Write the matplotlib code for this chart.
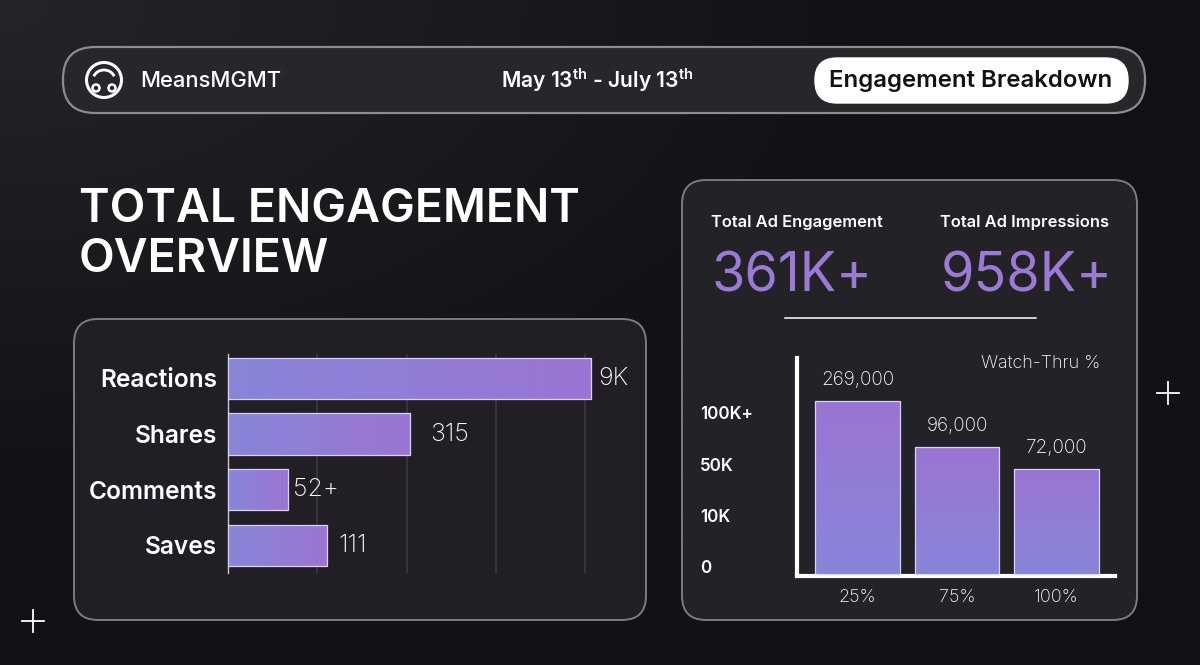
import numpy as np
import matplotlib
matplotlib.use("Agg")
import matplotlib.pyplot as plt
from matplotlib.patches import FancyBboxPatch, Circle, Arc
from matplotlib.colors import LinearSegmentedColormap
from matplotlib.transforms import offset_copy

plt.rcParams['font.family'] = ['Inter', 'DejaVu Sans']

# ---------------- data ----------------
brand = "MeansMGMT"
date_range = "May 13$^{\\mathrm{th}}$ - July 13$^{\\mathrm{th}}$"
badge = "Engagement Breakdown"
title_lines = ["TOTAL ENGAGEMENT", "OVERVIEW"]

eng_categories = ["Reactions", "Shares", "Comments", "Saves"]
eng_bar_lengths = [4.07, 2.04, 0.67, 1.11]        # drawn length (grid units)
eng_value_labels = ["9K", "315", "52+", "111"]
eng_grid = [1, 2, 3, 4]

kpi_titles = ["Total Ad Engagement", "Total Ad Impressions"]
kpi_values = ["361K+", "958K+"]

watch_categories = ["25%", "75%", "100%"]
watch_bar_tops = [3.23, 2.33, 1.90]                # drawn height (tick units)
watch_value_labels = ["269,000", "96,000", "72,000"]
watch_ticks = [0, 1, 2, 3]
watch_tick_labels = ["0", "10K", "50K", "100K+"]
watch_title = "Watch-Thru %"

# ---------------- style ----------------
W, H = 1200, 665
PT = 72 / 100.0  # px -> pt
BG_DARK = "#121116"
PANEL = "#211f25"
EDGE = "#7c7b82"
PURPLE = "#9b7ad6"
C_LEFT = "#8885d9"
C_RIGHT = "#9b74d3"

fig = plt.figure(figsize=(12, 6.65), dpi=100)
fig.patch.set_facecolor(BG_DARK)

bg = fig.add_axes([0, 0, 1, 1])
bg.set_xlim(0, W)
bg.set_ylim(H, 0)
bg.axis("off")

# background gradient (lighter top-left)
yy, xx = np.mgrid[0:H:4, 0:W:4]
d = np.clip(1 - np.sqrt((xx / 900.0) ** 2 + (yy / 500.0) ** 2), 0, 1)
base = np.array([0x12, 0x11, 0x16]) / 255.0
hi = np.array([0x25, 0x24, 0x29]) / 255.0
img = base[None, None, :] + (hi - base)[None, None, :] * d[..., None]
bg.imshow(img, extent=[0, W, H, 0], aspect="auto", zorder=0, interpolation="bilinear")
bg.set_xlim(0, W)
bg.set_ylim(H, 0)


def rbox(x0, y0, x1, y1, r, fc, ec, lw=1.5, z=1):
    p = FancyBboxPatch((x0 + r, y0 + r), (x1 - x0) - 2 * r, (y1 - y0) - 2 * r,
                       boxstyle=f"round,pad={r},rounding_size={r}",
                       fc=fc, ec=ec, lw=lw, zorder=z)
    bg.add_patch(p)
    return p


def txt(x, y, s, size_px, **kw):
    kw.setdefault("color", "white")
    return bg.text(x, y, s, fontsize=size_px * PT, zorder=10, **kw)


# header
rbox(63, 47, 1145, 113, 32, "#27262b", "#8d8c92", lw=1.6)
bg.add_patch(Circle((104, 80), 17.5, fill=False, ec="white", lw=2.2, zorder=5))
bg.add_patch(Arc((104, 80), 22, 20, theta1=200, theta2=340, ec="white", lw=2, zorder=5))
bg.add_patch(Circle((96, 88), 3.5, fill=False, ec="white", lw=1.8, zorder=5))
bg.add_patch(Circle((112, 88), 3.5, fill=False, ec="white", lw=1.8, zorder=5))
txt(140, 81, brand, 22, ha="left", va="center", fontweight="medium")
plt.rcParams['mathtext.fontset'] = 'custom'
plt.rcParams['mathtext.rm'] = 'Inter:semibold'
txt(597, 80, date_range, 21, ha="center", va="center", fontweight="semibold")
rbox(815, 58, 1128, 103, 22, "white", "white", lw=1)
txt(971, 81, badge, 24, ha="center", va="center", color="#111111", fontweight="semibold")

# title
txt(79, 222, title_lines[0], 46.5, ha="left", va="baseline", fontweight="semibold")
txt(79, 272, title_lines[1], 46.5, ha="left", va="baseline", fontweight="semibold")

# panels
rbox(74, 319, 646, 620, 24, PANEL, EDGE, lw=1.4)
rbox(682, 180, 1137, 620, 24, "#232227", EDGE, lw=1.4)

# plus signs
for (px, py) in [(1168, 393), (33, 621)]:
    bg.plot([px - 11, px + 11], [py, py], color="white", lw=1.3, zorder=5)
    bg.plot([px, px], [py - 11, py + 11], color="white", lw=1.3, zorder=5)


def px_axes(x0, y0, x1, y1):
    a = fig.add_axes([x0 / W, 1 - y1 / H, (x1 - x0) / W, (y1 - y0) / H])
    a.patch.set_alpha(0)
    return a


grad_h = LinearSegmentedColormap.from_list("gh", [C_LEFT, C_RIGHT])
grad_v = LinearSegmentedColormap.from_list("gv", [C_LEFT, C_RIGHT])
ramp = np.linspace(0, 1, 256)

# ---------------- left: horizontal bars ----------------
ax = px_axes(228, 354, 228 + 4.5 * 89.3, 573)
ypos = np.arange(len(eng_categories))
bars = ax.barh(ypos, eng_bar_lengths, height=0.74, color="none",
               edgecolor="#d9d2f2", lw=0.9, zorder=4)
for b in bars:
    x0, y0, w, h = b.get_x(), b.get_y(), b.get_width(), b.get_height()
    im = ax.imshow(ramp[None, :], cmap=grad_h, extent=[x0, x0 + w, y0 + h, y0],
                   aspect="auto", zorder=3)
    im.set_clip_path(b)
for g in eng_grid:
    ax.axvline(g, color="#3b3a40", lw=1.2, zorder=1)
offsets = [7, 20, 5, 11]
for yv, L, lab, off in zip(ypos, eng_bar_lengths, eng_value_labels, offsets):
    ax.annotate(lab, (L, yv), xytext=(off * PT, 0), textcoords="offset points",
                ha="left", va="center", color="white", fontsize=25 * PT,
                fontweight="light")
ax.set_xlim(0, 4.5)
ax.set_ylim(3.5, -0.44)
ax.set_yticks(ypos)
ax.set_yticklabels(eng_categories, fontsize=24.5 * PT, fontweight="semibold",
                   color="white")
for t in ax.get_yticklabels():
    t.set_va("center_baseline")
    t.set_transform(t.get_transform() + matplotlib.transforms.ScaledTranslation(0, 3 / 100, fig.dpi_scale_trans))
ax.tick_params(axis="y", length=0, pad=11 * PT)
ax.set_xticks([])
for s in ["top", "right", "bottom"]:
    ax.spines[s].set_visible(False)
ax.spines["left"].set_color("#c8c8cc")
ax.spines["left"].set_linewidth(1.0)

# ---------------- right: KPIs ----------------
for x, t, v in [(711, kpi_titles[0], kpi_values[0]), (940, kpi_titles[1], kpi_values[1])]:
    txt(x, 222, t, 16.5, ha="left", va="center", fontweight="semibold")
    txt(x + 1, 291, v, 54, ha="left", va="baseline", color=PURPLE, fontweight="normal")
bg.plot([785, 1036], [318, 318], color="white", lw=1.1, zorder=5)

# ---------------- right: vertical bars ----------------
ax2 = px_axes(797, 358, 1115, 576)
xpos = np.arange(len(watch_categories))
base_v = -0.14
bars2 = ax2.bar(xpos, np.array(watch_bar_tops) - base_v, bottom=base_v, width=0.85,
                color="none", edgecolor="#d9d2f2", lw=0.9, zorder=4)
for b in bars2:
    x0, y0, w, h = b.get_x(), b.get_y(), b.get_width(), b.get_height()
    im = ax2.imshow(ramp[:, None], cmap=grad_v, origin="lower",
                    extent=[x0, x0 + w, y0, y0 + h], aspect="auto", zorder=3)
    im.set_clip_path(b)
for xv, top, lab in zip(xpos, watch_bar_tops, watch_value_labels):
    ax2.annotate(lab, (xv, top), xytext=(0, 21 * PT), textcoords="offset points",
                 ha="center", va="center", color="white", fontsize=19 * PT,
                 fontweight="light")
ax2.set_xlim(-0.61, 2.59)
ax2.set_ylim(-0.175, 4.06)
ax2.set_xticks(xpos)
ax2.set_xticklabels(watch_categories, fontsize=18 * PT, color="white",
                    fontweight="light")
ax2.tick_params(axis="x", length=0, pad=13 * PT)
ax2.set_yticks(watch_ticks)
ax2.set_yticklabels(watch_tick_labels, fontsize=17 * PT, color="white",
                    fontweight="semibold", ha="left")
ax2.tick_params(axis="y", length=0, pad=97 * PT)
for s in ["top", "right"]:
    ax2.spines[s].set_visible(False)
for s in ["left", "bottom"]:
    ax2.spines[s].set_color("white")
    ax2.spines[s].set_linewidth(3)
ax2.text(1.0 - 15 / 318, 1 - 5 / 218, watch_title, transform=ax2.transAxes,
         ha="right", va="center", color="white", fontsize=18 * PT,
         fontweight="light")

fig.savefig("out.png", dpi=100, facecolor=fig.get_facecolor())
